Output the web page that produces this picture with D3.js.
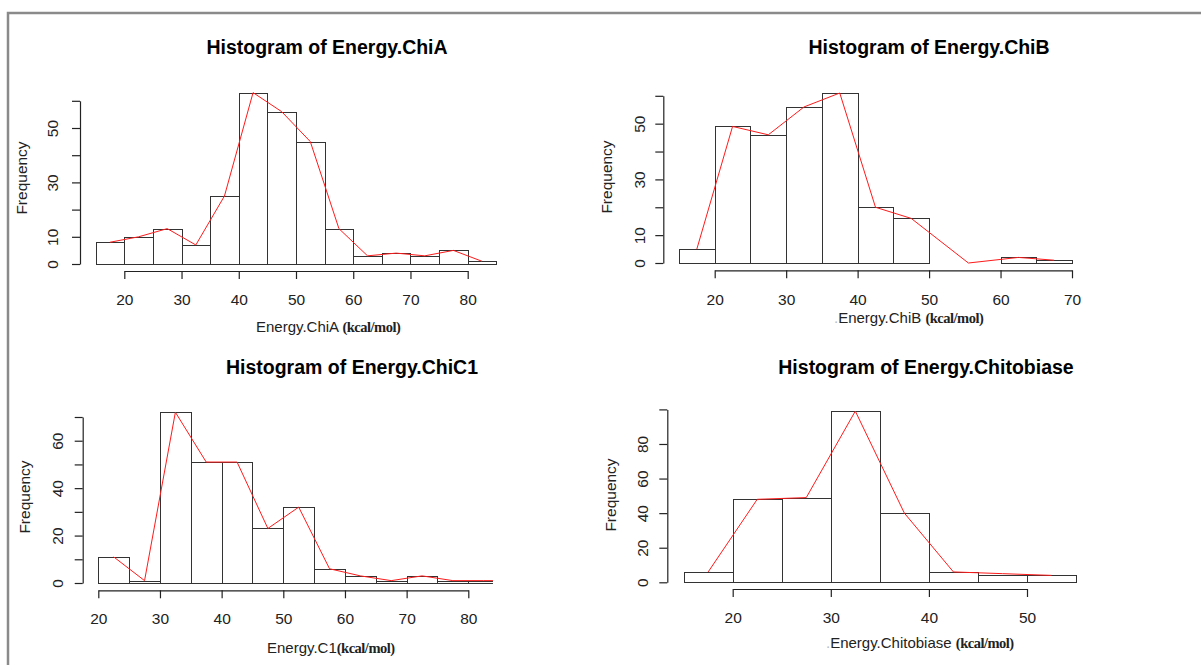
<!DOCTYPE html>
<html>
<head>
<meta charset="utf-8">
<script src="https://cdn.jsdelivr.net/npm/d3@7"></script>
<style>
  body { margin: 0; background: #fff; }
  svg { display: block; }
  .tick text { font-family: "Liberation Sans", Arial, sans-serif; font-size: 15.5px; fill: #222; }
</style>
</head>
<body>
<svg id="chart"></svg>
<script>
// histogram data (bin edges + counts + the red frequency polygon)
var chiaBreaks = [15, 20, 25, 30, 35, 40, 45, 50, 55, 60, 65, 70, 75, 80, 85]
var chiaCounts = [8, 10, 13, 7, 25, 63, 56, 45, 13, 3, 4, 3, 5, 1]
var chiaPolyX = [17.5, 22.5, 27.5, 32.5, 37.5, 42.5, 47.5, 52.5, 57.5, 62.5, 67.5, 72.5, 77.5, 82.5]
var chiaPolyY = [8, 10, 13, 7, 25, 63, 56, 45, 13, 3, 4, 3, 5, 1]

var chibBreaks = [15, 20, 25, 30, 35, 40, 45, 50, 55, 60, 65, 70]
var chibCounts = [5, 49, 46, 56, 61, 20, 16, 0, 0, 2, 1]
var chibPolyX = [17.5, 22.5, 27.5, 32.5, 37.5, 42.5, 47.5, 55.5, 62.5, 67.5]
var chibPolyY = [5, 49, 46, 56, 61, 20, 16, 0, 2, 1]

var c1Breaks = [20, 25, 30, 35, 40, 45, 50, 55, 60, 65, 70, 75, 80, 85]
var c1Counts = [11, 1, 72, 51, 51, 23, 32, 6, 3, 1, 3, 1, 1]
var c1PolyX = [22.5, 27.5, 32.5, 37.5, 42.5, 47.5, 52.5, 57.5, 62.5, 67.5, 72.5, 77.5, 82.5, 85]
var c1PolyY = [11, 1, 72, 51, 51, 23, 32, 6, 3, 1, 3, 1, 1, 1]

var chitoBreaks = [15, 20, 25, 30, 35, 40, 45, 50, 55]
var chitoCounts = [6, 48, 49, 99, 40, 6, 4, 4]
var chitoPolyX = [17.5, 22.5, 27.5, 32.5, 37.5, 42.5, 47.5, 52.5]
var chitoPolyY = [6, 48, 49, 99, 40, 6, 5, 4]

// axis ticks and the labels R actually printed
var chiaXTicks = [20, 30, 40, 50, 60, 70, 80]
var chiaYTicks = [0, 10, 20, 30, 40, 50, 60]
var chiaYLabels = [0, 10, 30, 50]
var chibXTicks = [20, 30, 40, 50, 60, 70]
var chibYTicks = [0, 10, 20, 30, 40, 50, 60]
var chibYLabels = [0, 10, 30, 50]
var c1XTicks = [20, 30, 40, 50, 60, 70, 80]
var c1YTicks = [0, 10, 20, 30, 40, 50, 60, 70]
var c1YLabels = [0, 20, 40, 60]
var chitoXTicks = [20, 30, 40, 50]
var chitoYTicks = [0, 20, 40, 60, 80, 100]
var chitoYLabels = [0, 20, 40, 60, 80]

var titles = ["Histogram of Energy.ChiA", "Histogram of Energy.ChiB",
              "Histogram of Energy.ChiC1", "Histogram of Energy.Chitobiase"]
var xNames = ["Energy.ChiA", "Energy.ChiB", "Energy.C1", "Energy.Chitobiase"]
var unit = "(kcal/mol)"

var W = 1201, H = 665

var svg = d3.select("#chart")
    .attr("width", W)
    .attr("height", H)

// grey frame of the screenshot
svg.append("path")
    .attr("d", "M8,665 V13 H1201")
    .attr("fill", "none")
    .attr("stroke", "#8a8a8a")
    .attr("stroke-width", 2.5)

// layout of the 4 panels (pixel boxes); yr = pixel of 0 and of the top tick
var panels = [
    {title: titles[0], name: xNames[0], sep: " ", breaks: chiaBreaks, counts: chiaCounts, px: chiaPolyX, py: chiaPolyY,
     xt: chiaXTicks, yt: chiaYTicks, yl: chiaYLabels,
     xr: [124.3, 467.7], yr: [264, 100.8], yAxisX: 80, xAxisY: 271, yLabX: 53, tickY: 300,
     labY: 327, labX: 256, freqX: 22, freqY: 178, titleX: 327, titleY: 47, dot: false, clipR: null},
    {title: titles[1], name: xNames[1], sep: " ", breaks: chibBreaks, counts: chibCounts, px: chibPolyX, py: chibPolyY,
     xt: chibXTicks, yt: chibYTicks, yl: chibYLabels,
     xr: [714.7, 1072], yr: [263, 95.8], yAxisX: 663.3, xAxisY: 270.3, yLabX: 640, tickY: 300,
     labY: 318, labX: 834, freqX: 607, freqY: 177, titleX: 929, titleY: 47, dot: true, clipR: null},
    {title: titles[2], name: xNames[2], sep: "", breaks: c1Breaks, counts: c1Counts, px: c1PolyX, py: c1PolyY,
     xt: c1XTicks, yt: c1YTicks, yl: c1YLabels,
     xr: [98.3, 468.3], yr: [583, 417], yAxisX: 82.7, xAxisY: 590.3, yLabX: 58, tickY: 619,
     labY: 648, labX: 267, freqX: 25, freqY: 497, titleX: 352, titleY: 367, dot: false, clipR: 84},
    {title: titles[3], name: xNames[3], sep: " ", breaks: chitoBreaks, counts: chitoCounts, px: chitoPolyX, py: chitoPolyY,
     xt: chitoXTicks, yt: chitoYTicks, yl: chitoYLabels,
     xr: [732.7, 1027], yr: [582.3, 409.4], yAxisX: 667.3, xAxisY: 589, yLabX: 643, tickY: 618,
     labY: 643, labX: 826, freqX: 611, freqY: 495, titleX: 926, titleY: 367, dot: true, clipR: null}
]

panels.forEach(function(p, i) {
    var x = d3.scaleLinear()
        .domain([p.xt[0], p.xt[p.xt.length - 1]])
        .range(p.xr)
    var y = d3.scaleLinear()
        .domain([0, p.yt[p.yt.length - 1]])
        .range(p.yr)

    var g = svg.append("g")

    var plotG = g.append("g")
    if (p.clipR != null) {
        svg.append("clipPath").attr("id", "clip" + i)
            .append("rect")
            .attr("x", x(p.breaks[0]) - 5)
            .attr("y", y(d3.max(p.counts)) - 10)
            .attr("width", x(p.clipR) - x(p.breaks[0]) + 5)
            .attr("height", y(0) - y(d3.max(p.counts)) + 12)
        plotG.attr("clip-path", "url(#clip" + i + ")")
    }

    // bars
    var bins = p.counts.map(function(c, j) { return {x0: p.breaks[j], x1: p.breaks[j + 1], n: c} })
    plotG.selectAll("rect.bar")
        .data(bins)
        .enter()
        .append("rect")
            .attr("class", "bar")
            .attr("x", d => Math.round(x(d.x0)) + 0.5)
            .attr("y", d => Math.round(y(d.n)) + 0.5)
            .attr("width", d => Math.round(x(d.x1)) - Math.round(x(d.x0)))
            .attr("height", d => Math.round(y(0)) - Math.round(y(d.n)))
            .attr("fill", "#fff")
            .attr("stroke", "#333")
            .attr("stroke-width", 1)

    // red frequency polygon
    var pts = p.px.map((v, j) => [v, p.py[j]])
    plotG.append("path")
        .datum(pts)
        .attr("fill", "none")
        .attr("stroke", "#ff1a1a")
        .attr("stroke-width", 1)
        .attr("d", d3.line().x(d => x(d[0])).y(d => y(d[1])))

    // x axis
    var xAxis = g.append("g")
        .attr("transform", "translate(0," + p.xAxisY + ")")
        .call(d3.axisBottom(x).tickValues(p.xt).tickSize(8).tickSizeOuter(0).tickFormat(d3.format("d")))
    xAxis.select(".domain").attr("stroke", "#222").attr("stroke-width", 1.2)
    xAxis.selectAll(".tick line").attr("stroke", "#222").attr("stroke-width", 1.2)
    xAxis.selectAll(".tick text")
        .attr("y", p.tickY - p.xAxisY)
        .attr("dy", "0.35em")

    // y axis (labels parallel to the axis, some skipped like R does)
    var yAxis = g.append("g")
        .attr("transform", "translate(" + p.yAxisX + ",0)")
        .call(d3.axisLeft(y).tickValues(p.yt).tickSize(8).tickSizeOuter(0)
              .tickFormat(d => p.yl.indexOf(d) >= 0 ? d : ""))
    yAxis.select(".domain").attr("stroke", "#222").attr("stroke-width", 1.2)
    yAxis.selectAll(".tick line").attr("stroke", "#222").attr("stroke-width", 1.2)
    yAxis.selectAll(".tick text")
        .attr("transform", "rotate(-90)")
        .attr("x", 0)
        .attr("y", p.yLabX - p.yAxisX)
        .attr("dy", "0.35em")
        .attr("text-anchor", "middle")

    // titles and labels
    g.append("text")
        .attr("x", p.titleX)
        .attr("y", p.titleY)
        .attr("dy", "0.35em")
        .attr("text-anchor", "middle")
        .attr("font-family", "Liberation Sans, Arial, sans-serif")
        .attr("font-weight", "bold")
        .attr("font-size", 19.5)
        .attr("fill", "#000")
        .text(p.title)

    g.append("text")
        .attr("transform", "translate(" + p.freqX + "," + p.freqY + ") rotate(-90)")
        .attr("dy", "0.35em")
        .attr("text-anchor", "middle")
        .attr("font-family", "Liberation Sans, Arial, sans-serif")
        .attr("font-size", 15.5)
        .attr("fill", "#222")
        .text("Frequency")

    var lab = g.append("text")
        .attr("x", p.labX)
        .attr("y", p.labY)
        .attr("dy", "0.35em")
        .attr("font-family", "Liberation Sans, Arial, sans-serif")
        .attr("font-size", 15)
        .attr("fill", "#222")
    if (p.dot) lab.append("tspan").attr("fill", "#bbb").text(".")
    lab.append("tspan").text(p.name + p.sep)
    lab.append("tspan")
        .attr("font-family", "Liberation Serif, Times New Roman, serif")
        .attr("font-weight", "bold")
        .attr("font-size", 14.5)
        .attr("letter-spacing", -0.5)
        .text(unit)
})
</script>
</body>
</html>
